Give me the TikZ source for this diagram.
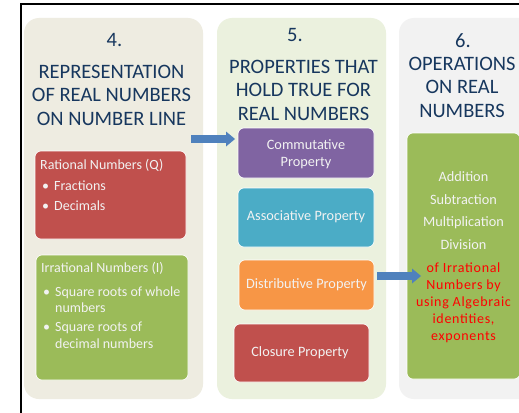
\documentclass[tikz,border=0pt]{standalone}
\usepackage{fontspec}
\setmainfont{Carlito}
\usetikzlibrary{arrows.meta}
\definecolor{titleblue}{HTML}{17375E}
\definecolor{panA}{HTML}{EEECE1}
\definecolor{panB}{HTML}{EBF1DE}
\definecolor{panC}{HTML}{F2F2F2}
\definecolor{boxred}{HTML}{C0504D}
\definecolor{boxgreen}{HTML}{9BBB59}
\definecolor{boxpurple}{HTML}{8064A2}
\definecolor{boxteal}{HTML}{4BACC6}
\definecolor{boxorange}{HTML}{F79646}
\definecolor{arrowblue}{HTML}{4F81BD}
\definecolor{boxtext}{HTML}{F2F2F2}
\definecolor{redtext}{HTML}{FF0000}
\begin{document}
\begin{tikzpicture}[x=1pt,y=-1pt,
 panel/.style={rounded corners=15pt, inner sep=0pt, outer sep=0pt},
 card/.style={rounded corners=6pt, draw=white, line width=0.6pt, inner sep=0pt},
 title/.style={text=titleblue, font=\fontsize{20.5}{23.5}\selectfont, align=center, anchor=base, inner sep=0pt},
 cardtext/.style={text=boxtext, font=\fontsize{14.3}{17}\selectfont, align=center, anchor=base, inner sep=0pt},
 listtext/.style={text=boxtext, font=\fontsize{14}{16.5}\selectfont, anchor=base west, inner sep=0pt, align=left},
 redlines/.style={text=redtext, font=\fontsize{14}{17}\selectfont\addfontfeature{LetterSpace=5}, align=center, anchor=base, inner sep=0pt},
 blockarrow/.style={draw=arrowblue, line width=8pt, -{Triangle[length=9pt,width=15pt,line width=0pt]}},
]
\useasboundingbox (0,0) rectangle (519,412);
\clip (0,0) rectangle (519,412);
\fill[white] (0,0) rectangle (519,412);
\draw[line width=1.5pt] (21,414) -- (21,4) -- (530,4);

% panels
\node[panel, fill=panA, minimum width=179pt, minimum height=381pt] (p1) at (113.5,208.5) {};
\node[panel, fill=panB, minimum width=169pt, minimum height=381pt] (p2) at (301.5,208.5) {};
\node[panel, fill=panC, minimum width=150pt, minimum height=381pt] (p3) at (474,208.5) {};

% titles (anchor = baseline of last line)
\node[title] (n1) at (114.5,47) {4.};
\node[title] (t1) at (111.5,125) {REPRESENTATION\\OF REAL NUMBERS\\ON NUMBER LINE};
\node[title] (n2) at (295,42) {5.};
\node[title] (t2) at (303.5,120) {PROPERTIES THAT\\HOLD TRUE FOR\\REAL NUMBERS};
\node[title] (n3) at (463,48) {6.};
\node[title] (t3) at (462,117) {OPERATIONS\\ON REAL\\NUMBERS};

% column 1 cards
\node[card, fill=boxred, minimum width=151pt, minimum height=88pt] (rat) at (110.5,195) {};
\node[listtext] (ratt) at (40,210) {Rational Numbers (Q)\\[5pt]
\hspace*{2pt}\textbullet\hspace{5pt}Fractions\\[3pt]
\hspace*{2pt}\textbullet\hspace{5pt}Decimals};
\node[card, fill=boxgreen, minimum width=152pt, minimum height=125pt] (irr) at (112,317.5) {};
\node[listtext] (irrt) at (41,348) {Irrational Numbers (I)\\[7.5pt]
\hspace*{2pt}\textbullet\hspace{5pt}Square roots of whole\\
\hspace*{2pt}\phantom{\textbullet}\hspace{5pt}numbers\\[2.5pt]
\hspace*{2pt}\textbullet\hspace{5pt}Square roots of\\
\hspace*{2pt}\phantom{\textbullet}\hspace{5pt}decimal numbers};

% column 2 cards
\node[card, fill=boxpurple, minimum width=136pt, minimum height=50pt] (comm) at (306,153) {};
\node[cardtext] (commt) at (306,166) {Commutative\\Property};
\node[card, fill=boxteal, minimum width=136pt, minimum height=59pt] (assoc) at (306,217.5) {};
\node[cardtext] (assoct) at (306,220) {Associative Property};
\node[card, fill=boxorange, minimum width=135pt, minimum height=50pt] (dist) at (306.5,285) {};
\node[cardtext] (distt) at (306.5,288.5) {Distributive Property};
\node[card, fill=boxred, minimum width=135pt, minimum height=58pt] (clos) at (301.5,353) {};
\node[cardtext] (clost) at (300,356) {Closure Property};

% column 3 card
\node[card, fill=boxgreen, minimum width=113pt, minimum height=246pt] (ops) at (463.5,256) {};
\node[cardtext] (opst) at (463.5,249) {Addition\\[5.5pt]Subtraction\\[5.5pt]Multiplication\\[5.5pt]Division};
\node[redlines] (opsr) at (463.5,340.5) {of Irrational\\Numbers by\\using Algebraic\\identities,\\exponents};

% arrows
\coordinate (a1s) at (191,139);
\coordinate (a1e) at (235,139);
\draw[blockarrow] (a1s) -- (a1e);
\coordinate (a2s) at (377,276);
\coordinate (a2e) at (421,276);
\draw[blockarrow] (a2s) -- (a2e);
\end{tikzpicture}
\end{document}
